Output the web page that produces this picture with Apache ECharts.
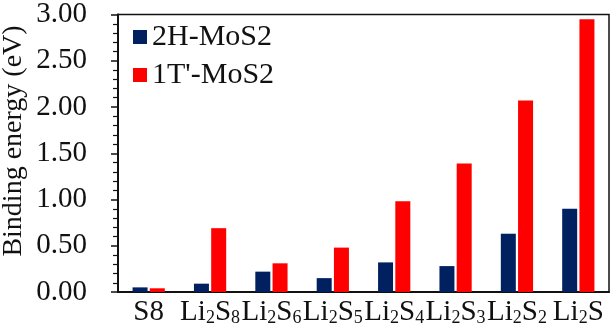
<!DOCTYPE html>
<html>
<head>
<meta charset="utf-8">
<script src="https://cdn.jsdelivr.net/npm/echarts@6/dist/echarts.min.js"></script>
<style>
  html, body { margin: 0; padding: 0; background: #fff; }
  #chart { width: 616px; height: 330px; }
</style>
</head>
<body>
<div id="chart"></div>
<script>
// Adsorbed species (digits in Li compounds are drawn as subscripts)
const categories = ['S8', 'Li2S8', 'Li2S6', 'Li2S5', 'Li2S4', 'Li2S3', 'Li2S2', 'Li2S'];
// Binding energies in eV
const mos2_2H = [0.05, 0.09, 0.22, 0.15, 0.32, 0.28, 0.63, 0.90];
const mos2_1T = [0.04, 0.69, 0.31, 0.48, 0.98, 1.39, 2.07, 2.95];
const seriesNames = ['2H-MoS2', "1T'-MoS2"];
const yTicks = { min: 0, max: 3, step: 0.5 };

const FONT = '"Liberation Serif", "Times New Roman", serif';

function formatFormula(name) {
  if (!name.startsWith('Li')) return '{a|' + name + '}';
  return name.replace(/([A-Za-z]+)|(\d+)/g, (m, letters, digits) =>
    letters ? '{a|' + letters + '}' : '{s|' + digits + '}');
}

const chart = echarts.init(document.getElementById('chart'), null, { renderer: 'canvas' });
chart.setOption({
  animation: false,
  backgroundColor: '#fff',
  grid: {
    left: 118, top: 11, right: 7, bottom: 38,
    show: true, borderColor: '#111', borderWidth: 1.5, backgroundColor: 'transparent'
  },
  legend: {
    orient: 'vertical',
    left: 128, top: 17,
    icon: 'rect',
    itemWidth: 14, itemHeight: 14,
    itemGap: 8,
    textStyle: { fontFamily: FONT, fontSize: 30, color: '#111' },
    data: seriesNames
  },
  graphic: [{
    type: 'text',
    x: 14, y: 141,
    rotation: Math.PI / 2,
    style: {
      text: 'Binding energy (eV)',
      font: '28px ' + FONT,
      fill: '#111',
      textAlign: 'center',
      textVerticalAlign: 'middle'
    }
  }],
  xAxis: {
    type: 'category',
    data: categories,
    axisLine: { lineStyle: { color: '#111', width: 2 } },
    axisTick: { show: false },
    axisLabel: {
      margin: 5,
      interval: 0,
      formatter: formatFormula,
      rich: {
        a: { fontFamily: FONT, fontSize: 29, color: '#111', lineHeight: 30, verticalAlign: 'bottom' },
        s: { fontFamily: FONT, fontSize: 18, color: '#111', lineHeight: 14, verticalAlign: 'bottom' }
      }
    }
  },
  yAxis: {
    type: 'value',
    min: yTicks.min, max: yTicks.max, interval: yTicks.step,
    axisLine: { show: true, lineStyle: { color: '#111', width: 2 } },
    axisTick: { show: true, inside: false, length: 7, lineStyle: { color: '#111', width: 1.5 } },
    minorTick: { show: true, splitNumber: 5, length: 5, lineStyle: { color: '#111', width: 1.2 } },
    splitLine: { show: false },
    axisLabel: {
      margin: 31,
      fontFamily: FONT, fontSize: 29, color: '#111',
      formatter: v => v.toFixed(2)
    }
  },
  series: [
    {
      name: seriesNames[0], type: 'bar', data: mos2_2H,
      barWidth: 15, barGap: '15%',
      itemStyle: { color: '#002060' }
    },
    {
      name: seriesNames[1], type: 'bar', data: mos2_1T,
      barWidth: 15,
      itemStyle: { color: '#ff0000' }
    }
  ]
});
</script>
</body>
</html>
